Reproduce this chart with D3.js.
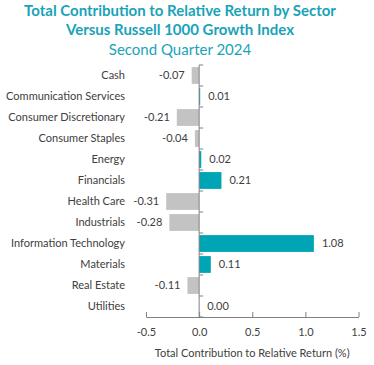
<!DOCTYPE html>
<html>
<head>
<meta charset="utf-8">
<script src="https://d3js.org/d3.v7.min.js"></script>
<style>
  body { margin: 0; background: #fff; }
  svg { font-family: Lato, "Open Sans", sans-serif; }
</style>
</head>
<body>
<svg width="374" height="365"></svg>
<script>
var sectors = ['Cash', 'Communication Services', 'Consumer Discretionary', 'Consumer Staples',
  'Energy', 'Financials', 'Health Care', 'Industrials', 'Information Technology',
  'Materials', 'Real Estate', 'Utilities'];
var values = [-0.07, 0.01, -0.21, -0.04, 0.02, 0.21, -0.31, -0.28, 1.08, 0.11, -0.11, 0.00];
var xTicks = [-0.5, 0.0, 0.5, 1.0, 1.5];
var titleLines = ['Total Contribution to Relative Return by Sector', 'Versus Russell 1000 Growth Index', 'Second Quarter 2024'];

var teal = '#00a5b5';
var grey = '#c3c3c3';

// plain hyphen instead of unicode minus
var fmt = d3.formatLocale({ decimal: '.', thousands: ',', grouping: [3], currency: ['', ''], minus: '-' });

var svg = d3.select('svg');

// title
svg.selectAll('.title')
  .data(titleLines)
  .enter()
  .append('text')
  .attr('x', 180)
  .attr('y', function(d, i) { return 15.5 + i * 19.5; })
  .attr('text-anchor', 'middle')
  .attr('fill', '#1aa3b8')
  .attr('font-size', 15)
  .attr('font-weight', function(d, i) { return i < 2 ? 'bold' : 'normal'; })
  .text(function(d) { return d; });

var x = d3.scaleLinear()
  .domain([-0.5, 1.5])
  .range([146, 358.5]);

var y = d3.scaleBand()
  .domain(sectors)
  .range([65, 317])
  .paddingInner(0.2)
  .paddingOuter(0.1);

// bars
svg.selectAll('.bar')
  .data(values)
  .enter()
  .append('rect')
  .attr('x', function(d) { return x(Math.min(0, d)); })
  .attr('y', function(d, i) { return y(sectors[i]); })
  .attr('width', function(d) { return Math.abs(x(d) - x(0)); })
  .attr('height', y.bandwidth())
  .attr('fill', function(d) { return d > 0 ? teal : grey; });

// value labels
svg.selectAll('.val')
  .data(values)
  .enter()
  .append('text')
  .attr('x', function(d) { return d < 0 ? x(d) - 7 : x(d) + 8; })
  .attr('y', function(d, i) { return y(sectors[i]) + y.bandwidth() / 2; })
  .attr('dy', '0.35em')
  .attr('text-anchor', function(d) { return d < 0 ? 'end' : 'start'; })
  .attr('font-size', 11)
  .attr('fill', '#404040')
  .text(function(d) { return fmt.format('.2f')(d); });

// category labels
svg.selectAll('.cat')
  .data(sectors)
  .enter()
  .append('text')
  .attr('x', 125)
  .attr('y', function(d) { return y(d) + y.bandwidth() / 2; })
  .attr('dy', '0.35em')
  .attr('text-anchor', 'end')
  .attr('font-size', 11)
  .attr('fill', '#404040')
  .text(function(d) { return d; });

// vertical axis at zero with ticks on band edges
var edges = sectors.map(function(d) { return y(d) - y.step() * y.paddingInner() / 2; });
edges.push(317);
svg.append('line')
  .attr('x1', x(0)).attr('x2', x(0))
  .attr('y1', 65).attr('y2', 317)
  .attr('stroke', '#808080');
svg.selectAll('.ytick')
  .data(edges)
  .enter()
  .append('line')
  .attr('x1', x(0)).attr('x2', x(0) + 4)
  .attr('y1', function(d) { return d; })
  .attr('y2', function(d) { return d; })
  .attr('stroke', '#808080');

// x axis
var xAxis = d3.axisBottom(x)
  .tickValues(xTicks)
  .tickFormat(fmt.format('.1f'))
  .tickSizeInner(-5)
  .tickSizeOuter(0)
  .tickPadding(11);

var gx = svg.append('g')
  .attr('transform', 'translate(0,317)')
  .call(xAxis);
gx.select('.domain').attr('stroke', '#808080');
gx.selectAll('.tick line').attr('stroke', '#808080');
gx.selectAll('.tick text')
  .attr('font-size', 11)
  .attr('fill', '#404040')
  .attr('font-family', 'Lato, "Open Sans", sans-serif');

svg.append('text')
  .attr('x', x(0.5))
  .attr('y', 357)
  .attr('text-anchor', 'middle')
  .attr('font-size', 11)
  .attr('fill', '#404040')
  .text('Total Contribution to Relative Return (%)');
</script>
</body>
</html>
